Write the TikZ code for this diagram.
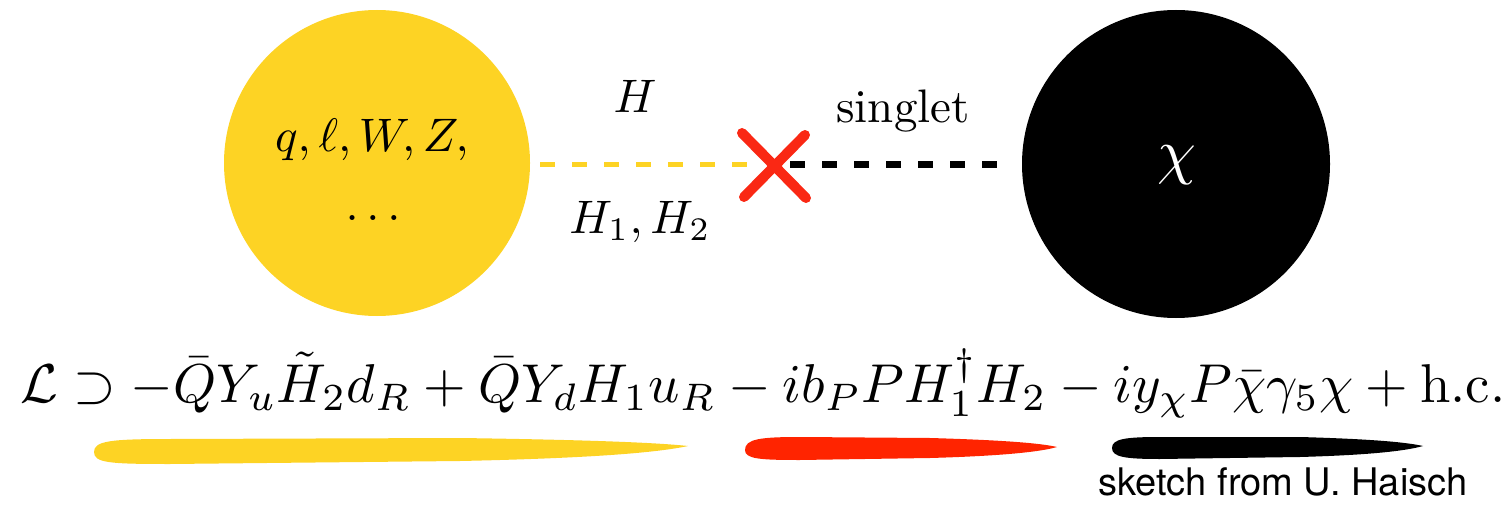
\documentclass[tikz,border=0pt]{standalone}
\usepackage{amsmath}
\usepackage{fontspec}
\newfontfamily\helv{TeX Gyre Heros}
\usetikzlibrary{calc}
\definecolor{yel}{RGB}{253,211,36}
\definecolor{brushred}{RGB}{255,36,0}
\definecolor{xred}{RGB}{250,40,20}
\tikzset{
  blob/.style={circle, inner sep=0pt, minimum size=#1},
  lbl/.style={inner sep=0pt, anchor=base, scale=4.7},
  yline/.style={draw=yel, line width=5pt, dash pattern=on 15pt off 17pt},
  bline/.style={draw=black, line width=7pt, dash pattern=on 15pt off 17pt},
  xstroke/.style={draw=xred, line width=10pt, line cap=round},
}
\begin{document}
\begin{tikzpicture}[x=1pt,y=-1pt]
\useasboundingbox (0,0) rectangle (1512,505);
% circles
\node[blob=306pt, fill=yel] (yc) at (377,163) {};
\node[blob=308pt, fill=black] (bc) at (1176,164) {};
\node[inner sep=0pt, text=white, scale=6.2] (chi) at (1177,165) {$\chi$};
\node[lbl] (part) at (372,152) {$q,\ell,W,Z,$};
\node[lbl] (dots) at (377,221) {$\dots$};
% cross and dashed lines
\coordinate (xc) at (773,165);
\coordinate (ys) at (540,165);
\coordinate (be) at (1008,165);
\draw[yline] (ys) -- ($(xc)+(-18,0)$);
\draw[bline] ($(xc)+(17,0)$) -- (be);
\draw[xstroke] ($(xc)+(-31,-32)$) -- ($(xc)+(33,33)$);
\draw[xstroke] ($(xc)+(32,-30)$) -- ($(xc)+(-29,32)$);
% labels
\node[lbl] (hl) at (635,113) {$H$};
\node[lbl] (sl) at (903,123) {singlet};
\node[lbl] (h12) at (640,233) {$H_1,H_2$};
% equation
\node[inner sep=0pt, anchor=base west] (eq) at (20,402) {\resizebox{1485pt}{!}{$\mathcal{L}\supset -\bar{Q}Y_u\tilde{H}_2 d_R + \bar{Q}Y_d H_1 u_R - i b_P P H_1^\dagger H_2 - i y_\chi P\bar{\chi}\gamma_5\chi + \text{h.c.}$}};
% brush strokes
\fill[yel] (94,452) .. controls (94,441) and (110,439) .. (170,439) -- (460,438) .. controls (600,440) and (660,443) .. (688,446) .. controls (660,452) and (600,458) .. (460,461) -- (170,464) .. controls (110,464) and (94,463) .. (94,452) -- cycle;
\fill[brushred] (745,450) .. controls (745,439) and (760,437) .. (800,437) -- (930,438) .. controls (1000,440) and (1040,443) .. (1057,447) .. controls (1040,452) and (1000,456) .. (930,458) -- (800,460) .. controls (760,460) and (745,459) .. (745,450) -- cycle;
\fill[black] (1112,448) .. controls (1112,439) and (1125,437) .. (1160,437) -- (1300,437) .. controls (1370,439) and (1405,442) .. (1423,446) .. controls (1405,451) and (1370,455) .. (1300,457) -- (1160,459) .. controls (1125,459) and (1112,457) .. (1112,448) -- cycle;
\node[inner sep=0pt, anchor=base west, font=\helv\fontsize{38}{42}\selectfont] (credit) at (1098,495) {sketch from U. Haisch};
\end{tikzpicture}
\end{document}
